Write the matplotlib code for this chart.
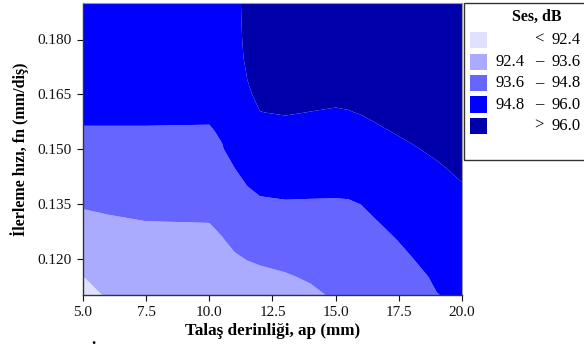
import numpy as np
import matplotlib
matplotlib.use("Agg")
import matplotlib.pyplot as plt
from matplotlib.patches import Rectangle

plt.rcParams['font.family'] = ['Liberation Serif', 'DejaVu Serif']

# grid positions (depth of cut ap, feed fn)
ap_vals = [5, 6, 7.5, 10, 10.5, 11, 11.5, 12, 13, 14, 15, 15.5, 16, 16.5, 17, 18, 19, 20]
fn_vals = [0.110, 0.115, 0.120, 0.125, 0.130, 0.135, 0.140, 0.145, 0.150,
           0.155, 0.160, 0.165, 0.170, 0.175, 0.180, 0.185, 0.190]

# Ses (dB) estimated along each ap column, bottom (fn=0.110) to top (fn=0.190)
ses_ap05 = [92.06, 92.39, 92.72, 93.05, 93.38, 93.69, 93.96, 94.23, 94.50, 94.77, 94.88, 94.97, 95.06, 95.15, 95.24, 95.33, 95.42]
ses_ap06 = [92.51, 92.76, 93.01, 93.25, 93.50, 93.75, 94.01, 94.26, 94.52, 94.77, 94.88, 94.97, 95.06, 95.15, 95.24, 95.33, 95.42]
ses_ap075 = [92.70, 92.92, 93.15, 93.37, 93.59, 93.83, 94.06, 94.30, 94.53, 94.77, 94.88, 94.97, 95.06, 95.15, 95.24, 95.33, 95.42]
ses_ap10 = [92.80, 93.00, 93.20, 93.41, 93.61, 93.84, 94.07, 94.30, 94.53, 94.76, 94.88, 94.97, 95.06, 95.15, 95.24, 95.33, 95.42]
ses_ap105 = [92.90, 93.12, 93.33, 93.55, 93.78, 94.02, 94.25, 94.49, 94.77, 94.86, 94.94, 95.03, 95.11, 95.20, 95.28, 95.37, 95.45]
ses_ap11 = [93.00, 93.25, 93.51, 93.77, 94.03, 94.29, 94.55, 94.81, 94.98, 95.15, 95.33, 95.50, 95.51, 95.52, 95.52, 95.53, 95.55]
ses_ap115 = [93.10, 93.36, 93.63, 93.93, 94.22, 94.52, 94.81, 95.01, 95.22, 95.42, 95.62, 95.92, 96.02, 96.20, 96.32, 96.40, 96.45]
ses_ap12 = [93.15, 93.42, 93.71, 94.03, 94.36, 94.68, 94.97, 95.22, 95.48, 95.74, 95.99, 96.13, 96.27, 96.40, 96.53, 96.67, 96.80]
ses_ap13 = [93.30, 93.53, 93.82, 94.13, 94.44, 94.74, 95.01, 95.28, 95.54, 95.80, 96.04, 96.20, 96.36, 96.52, 96.68, 96.84, 97.00]
ses_ap14 = [93.45, 93.69, 93.95, 94.21, 94.47, 94.73, 94.99, 95.24, 95.49, 95.75, 95.99, 96.18, 96.37, 96.55, 96.73, 96.92, 97.10]
ses_ap15 = [93.70, 93.91, 94.11, 94.32, 94.52, 94.73, 94.96, 95.20, 95.45, 95.69, 95.94, 96.16, 96.37, 96.57, 96.78, 96.99, 97.20]
ses_ap155 = [93.75, 93.95, 94.15, 94.35, 94.55, 94.74, 94.98, 95.23, 95.47, 95.72, 95.97, 96.18, 96.40, 96.61, 96.82, 97.04, 97.25]
ses_ap16 = [93.80, 94.00, 94.20, 94.40, 94.60, 94.81, 95.05, 95.30, 95.54, 95.79, 96.03, 96.24, 96.45, 96.66, 96.88, 97.09, 97.30]
ses_ap165 = [93.90, 94.11, 94.32, 94.53, 94.74, 94.97, 95.20, 95.43, 95.66, 95.89, 96.11, 96.32, 96.52, 96.73, 96.93, 97.14, 97.35]
ses_ap17 = [94.00, 94.22, 94.44, 94.67, 94.89, 95.11, 95.33, 95.54, 95.76, 95.98, 96.19, 96.39, 96.59, 96.79, 97.00, 97.20, 97.40]
ses_ap18 = [94.38, 94.58, 94.78, 94.97, 95.17, 95.36, 95.55, 95.75, 95.94, 96.14, 96.33, 96.53, 96.72, 96.92, 97.11, 97.31, 97.50]
ses_ap19 = [94.78, 94.91, 95.08, 95.25, 95.42, 95.59, 95.76, 95.93, 96.12, 96.30, 96.49, 96.67, 96.86, 97.04, 97.23, 97.41, 97.60]
ses_ap20 = [94.95, 95.12, 95.29, 95.46, 95.63, 95.80, 95.97, 96.14, 96.31, 96.49, 96.66, 96.83, 97.01, 97.18, 97.35, 97.53, 97.70]

levels = [90.0, 92.4, 93.6, 94.8, 96.0, 100.0]
legend_labels = [("", "<", "92.4"), ("92.4", "–", "93.6"), ("93.6", "–", "94.8"),
                 ("94.8", "–", "96.0"), ("", ">", "96.0")]
colors = ["#E0E0FF", "#AAAAFF", "#6666FF", "#0000FF", "#0000AA"]

x_ticks = [5.0, 7.5, 10.0, 12.5, 15.0, 17.5, 20.0]
y_ticks = [0.120, 0.135, 0.150, 0.165, 0.180]

columns = [ses_ap05, ses_ap06, ses_ap075, ses_ap10, ses_ap105, ses_ap11, ses_ap115,
           ses_ap12, ses_ap13, ses_ap14, ses_ap15, ses_ap155, ses_ap16, ses_ap165,
           ses_ap17, ses_ap18, ses_ap19, ses_ap20]
Z = np.array(columns).T
X, Y = np.meshgrid(ap_vals, fn_vals)

W, H = 584, 347
fig = plt.figure(figsize=(W / 100, H / 100), dpi=100)
ax = fig.add_axes([83 / W, 1 - 295 / H, (462 - 83) / W, (295 - 3) / H])
ax.contourf(X, Y, Z, levels=levels, colors=colors, antialiased=True)
ax.set_xlim(5, 20)
ax.set_ylim(0.110, 0.190)
ax.set_xticks(x_ticks)
ax.set_xticklabels([f"{v:.1f}" for v in x_ticks])
ax.set_yticks(y_ticks)
ax.set_yticklabels([f"{v:.3f}" for v in y_ticks])
ax.tick_params(direction='out', length=4, width=0.8, labelsize=11, colors='#111111',
               pad=4)
for s in ['left', 'bottom']:
    ax.spines[s].set_color('#333333')
    ax.spines[s].set_linewidth(1.0)
for s in ['top', 'right']:
    ax.spines[s].set_color('#999999')
    ax.spines[s].set_linewidth(0.8)
ax.set_xlabel("Talaş derinliği, ap (mm)", fontsize=12.3, fontweight='bold', labelpad=3)
ax.set_ylabel("İlerleme hızı, fn (mm/diş)", fontsize=11.5, fontweight='bold', labelpad=6)

# legend box (manual)
def fx(px):
    return px / W

def fy(py):
    return 1 - py / H

fig.add_artist(Rectangle((fx(464), fy(160)), fx(620) - fx(464), fy(3) - fy(160),
                         transform=fig.transFigure, fill=False, ec='#333333', lw=1.0,
                         clip_on=False))
fig.text(fx(537), fy(17), "Ses, dB", ha='center', va='center', fontsize=11.5,
         fontweight='bold')
row_y = [40, 61.5, 83, 104.5, 126]
for (a, sep, b), c, ry in zip(legend_labels, colors, row_y):
    fig.add_artist(Rectangle((fx(470), fy(ry + 8)), fx(487) - fx(470), fy(ry - 8) - fy(ry + 8),
                             transform=fig.transFigure, fc=c, ec='none'))
    if a:
        fig.text(fx(496), fy(ry), a, ha='left', va='center', fontsize=12)
    fig.text(fx(539), fy(ry), sep, ha='center', va='center', fontsize=12)
    fig.text(fx(581), fy(ry), b, ha='right', va='center', fontsize=12)

fig.text(fx(93), fy(340), ".", ha='center', va='center', fontsize=12, fontweight='bold')

fig.savefig("out.png", dpi=100)
